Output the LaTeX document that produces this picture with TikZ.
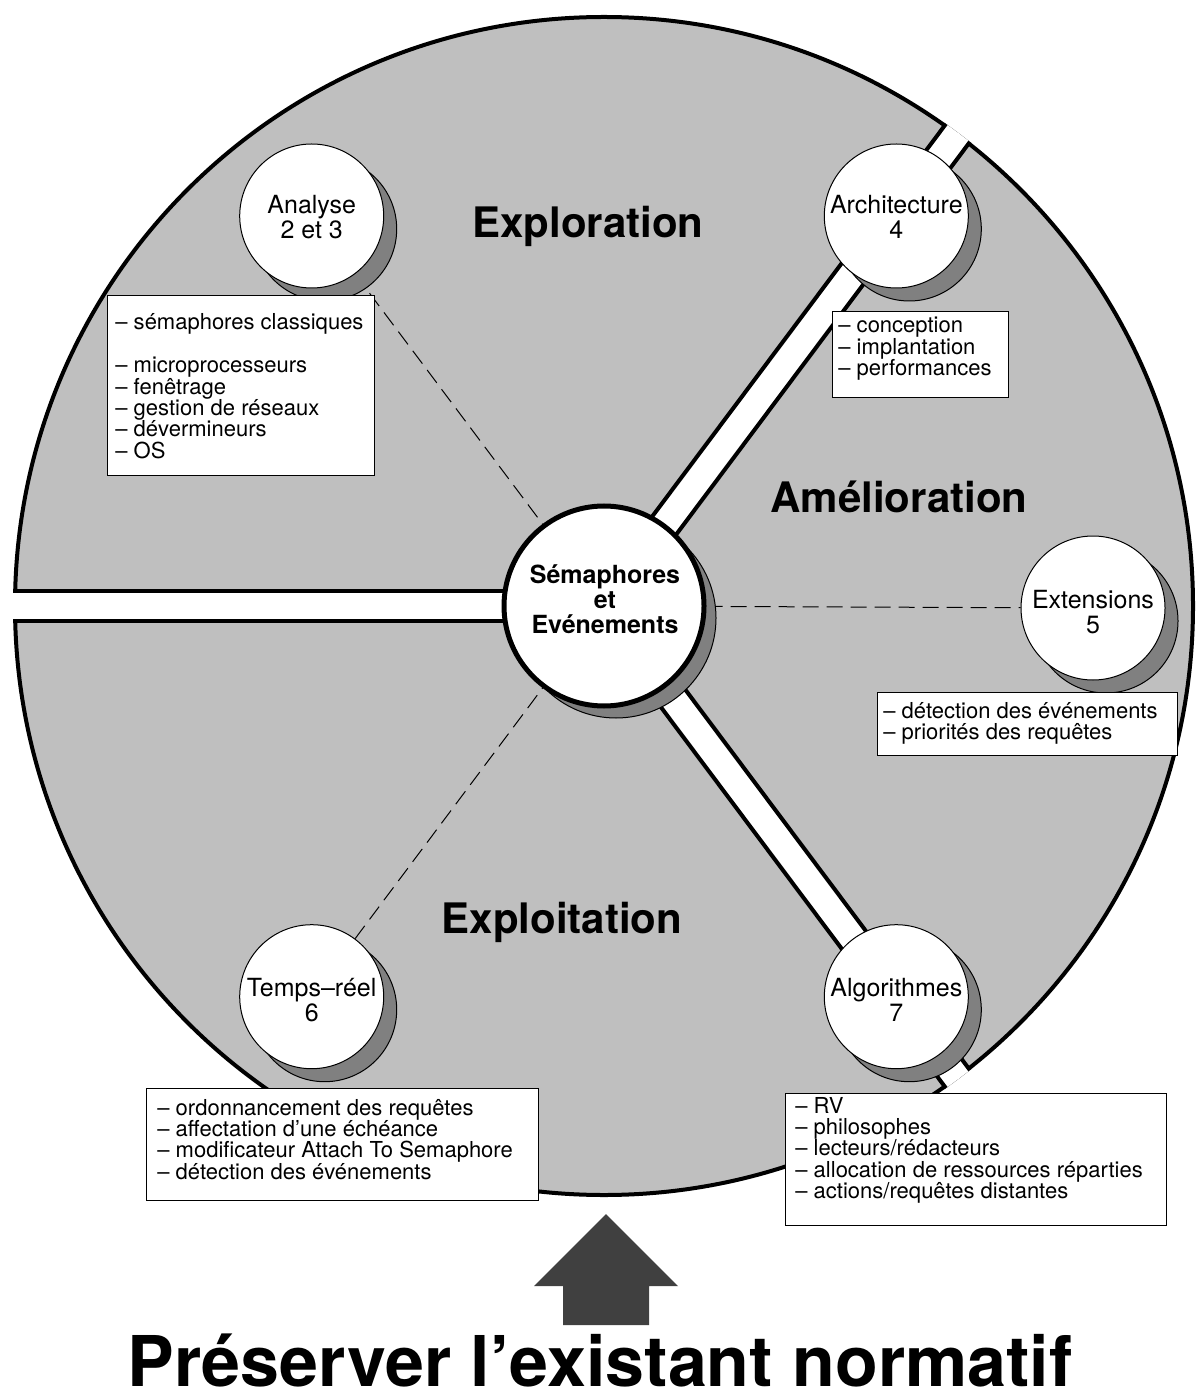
\documentclass[tikz,border=0pt]{standalone}
\usepackage{fontspec}
\setmainfont{TeX Gyre Heros}
\usetikzlibrary{calc,shadows}
\definecolor{sector}{HTML}{BFBFBF}
\definecolor{shade}{HTML}{808080}
\definecolor{arrowgray}{HTML}{404040}
\pgfdeclarelayer{back}
\pgfsetlayers{back,main}
% first baseline of a stacked label sits on the node's base anchor
\newcommand\stacked[2]{\parbox[t]{#1}{\centering #2}}
\newcommand\listing[2]{\parbox[t]{#1}{\raggedright #2}}
\begin{document}
\begin{tikzpicture}[x=0.5pt,y=-0.5pt,
  topic/.style={circle, draw=black, line width=0.5pt, fill=white,
    minimum size=72pt, inner sep=0pt,
    drop shadow={shadow xshift=6.5pt, shadow yshift=-6.5pt,
      fill=shade, draw=black, line width=0.5pt, opacity=1}},
  hub/.style={circle, draw=black, line width=2.5pt, fill=white,
    minimum size=100pt, inner sep=0pt,
    drop shadow={shadow xshift=6pt, shadow yshift=-6pt,
      fill=shade, draw=black, line width=0.5pt, opacity=1}},
  topictext/.style={anchor=base, inner sep=0pt,
    font=\fontsize{12.5pt}{12.5pt}\selectfont},
  hubtext/.style={anchor=base, inner sep=0pt,
    font=\fontsize{12.5pt}{12.5pt}\bfseries\selectfont},
  region/.style={anchor=base, inner sep=0pt,
    font=\fontsize{21pt}{21pt}\bfseries\selectfont},
  listbox/.style={draw=black, line width=0.6pt, fill=white,
    inner sep=0pt, anchor=north west},
  listtext/.style={anchor=base west, inner sep=0pt,
    font=\fontsize{11pt}{10.7pt}\selectfont},
  link/.style={draw=black, line width=0.5pt, dash pattern=on 8pt off 4pt},
  rim/.style={line width=2pt, draw=black}
]
\useasboundingbox (0,0) rectangle (1197,1400);

\coordinate (C) at (604,606);

% hub and topic circles
\node[hub] (hub) at (C) {};
\node[hubtext] (hubt) at (605,583) {\stacked{100pt}{Sémaphores\\et\\Evénements}};

\node[topic] (c23) at (311.7,216) {};
\node[topic] (c4)  at (896.3,216) {};
\node[topic] (c5)  at (1093,608) {};
\node[topic] (c6)  at (311.7,996.7) {};
\node[topic] (c7)  at (896.3,996.7) {};

\node[topictext] (l23) at ($(c23)+(0,-2)$) {\stacked{80pt}{Analyse\\2 et 3}};
\node[topictext] (l4)  at ($(c4)+(0,-2)$)  {\stacked{80pt}{Architecture\\4}};
\node[topictext] (l5)  at (c5)  {\stacked{80pt}{Extensions\\5}};
\node[topictext] (l6)  at (c6)  {\stacked{80pt}{Temps–réel\\6}};
\node[topictext] (l7)  at (c7)  {\stacked{80pt}{Algorithmes\\7}};

% region titles
\node[region] (rexplo) at (588,238) {Exploration};
\node[region] (ramel)  at (899,512) {Amélioration};
\node[region] (rexpt)  at (562,933) {Exploitation};

% item lists
\node[listbox, minimum width=133.5pt, minimum height=90pt] (b23) at (107,295) {};
\node[listtext] (t23) at (115,330) {\listing{130pt}{– sémaphores classiques\\[10.7pt]
  – microprocesseurs\\– fenêtrage\\– gestion de réseaux\\– dévermineurs\\– OS}};

\node[listbox, minimum width=88pt, minimum height=43pt] (b4) at (832,311) {};
\node[listtext] (t4) at (838,333) {\listing{85pt}{– conception\\– implantation\\– performances}};

\node[listbox, minimum width=150pt, minimum height=31.5pt] (b5) at (877,692) {};
\node[listtext] (t5) at (883,718) {\listing{148pt}{– détection des événements\\– priorités des requêtes}};

\node[listbox, minimum width=196pt, minimum height=56pt] (b6) at (146,1088) {};
\node[listtext] (t6) at (157,1115) {\listing{190pt}{– ordonnancement des requêtes\\– affectation d’une échéance\\
  – modificateur Attach To Semaphore\\– détection des événements}};

\node[listbox, minimum width=190.5pt, minimum height=66pt] (b7) at (785,1093) {};
\node[listtext] (t7) at (795,1113) {\listing{185pt}{– RV\\– philosophes\\– lecteurs/rédacteurs\\
  – allocation de ressources réparties\\– actions/requêtes distantes}};

% upward arrow and caption
\fill[arrowgray] (606,1214) -- (678,1286) -- (649,1286) -- (649,1325)
  -- (563,1325) -- (563,1286) -- (534,1286) -- cycle;
\node[anchor=base, inner sep=0pt, font=\fontsize{35pt}{35pt}\bfseries\selectfont]
  (title) at (600,1386) {Préserver l’existant normatif};

\begin{pgfonlayer}{back}
  % the disc split into three sectors by white channels
  \fill[sector] (C) circle[radius=294.5pt];
  \draw[rim] (C) circle[radius=294.5pt];
  \begin{scope}
    \clip (C) circle[radius=295.5pt];
    \foreach \a in {-53.2,53.2,180} {
      \fill[white] ($(C)+(\a+90:15)$) -- ($(C)+(\a+90:15)+(\a:700)$)
        -- ($(C)+(\a-90:15)+(\a:700)$) -- ($(C)+(\a-90:15)$) -- cycle;
      \draw[rim] ($(C)+(\a+90:15)$) -- ($(C)+(\a+90:15)+(\a:700)$);
      \draw[rim] ($(C)+(\a-90:15)$) -- ($(C)+(\a-90:15)+(\a:700)$);
    }
  \end{scope}
  % dashed links to the hub
  \draw[link] (c23) -- (hub);
  \draw[link] (c6) -- (hub);
  \draw[link] (hub) -- (c5);
\end{pgfonlayer}
\end{tikzpicture}
\end{document}
